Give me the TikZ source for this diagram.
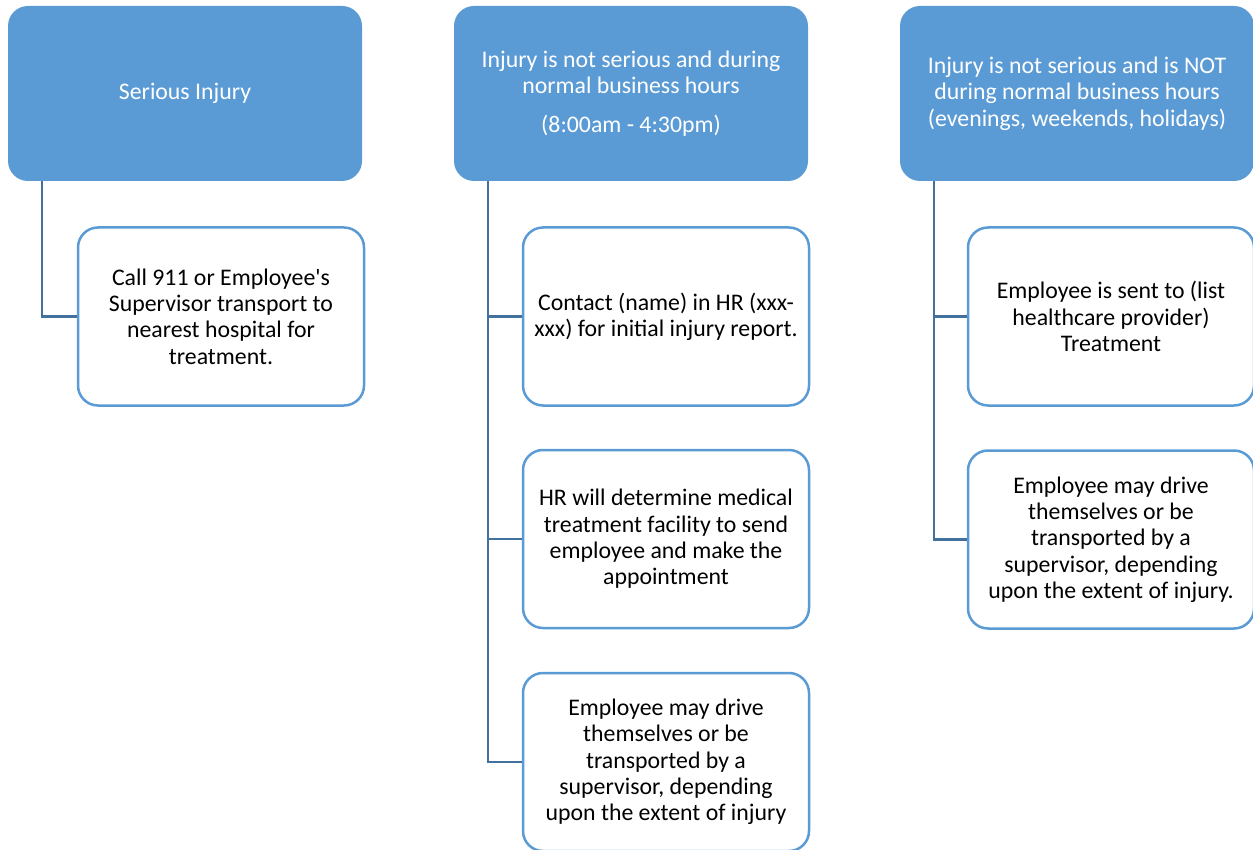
\documentclass[tikz,border=0pt]{standalone}
\usepackage{fontspec}
\setmainfont{Carlito}[Ligatures=TeXOff]
\usetikzlibrary{calc}
\definecolor{hdrblue}{HTML}{5B9BD5}
\definecolor{linkblue}{HTML}{41719C}
\tikzset{
	hdr/.style={fill=hdrblue, rounded corners=20pt, minimum width=354pt, minimum height=175pt, text=white, align=center, inner sep=0pt},
	sub/.style={draw=hdrblue, line width=2.5pt, fill=white, rounded corners=20pt, minimum width=286pt, minimum height=178pt, align=center, inner sep=0pt},
	link/.style={draw=linkblue, line width=2.5pt},
}

\begin{document}
\begin{tikzpicture}[x=1pt, y=-1pt, font=\fontsize{23.8}{26.3}\selectfont]
		%%%%% START %%%%%
		\useasboundingbox (0,0) rectangle (1253,850);
		
		% headers
		\node[hdr] (h1) at (185, 93.5) {Serious Injury};
		\node[hdr] (h2) at (631, 93.5) {Injury is not serious and during\\ normal business hours\\[13pt] (8:00am - 4:30pm)};
		\node[hdr] (h3) at (1077, 93.5) {Injury is not serious and is NOT\\ during normal business hours\\ (evenings, weekends, holidays)};
		
		\coordinate (t1) at ($(h1.south west)+(34,0)$);
		\coordinate (t2) at ($(h2.south west)+(34,0)$);
		\coordinate (t3) at ($(h3.south west)+(34,0)$);
		
		% first column
		\node[sub] (c11) at (221, 316.5) {Call 911 or Employee's\\ Supervisor transport to\\ nearest hospital for\\ treatment.};
		
		% second column
		\node[sub] (c21) at (666, 316.5) {Contact (name) in HR (xxx-\\ xxx) for initial injury report.};
		\node[sub] (c22) at (666, 539) {HR will determine medical\\ treatment facility to send\\ employee and make the\\ appointment};
		\node[sub] (c23) at (666, 762) {Employee may drive\\ themselves or be\\ transported by a\\ supervisor, depending\\ upon the extent of injury};
		
		% third column
		\node[sub] (c31) at (1111, 316.5) {Employee is sent to (list\\ healthcare provider)\\ Treatment};
		\node[sub] (c32) at (1111, 539.5) {Employee may drive\\ themselves or be\\ transported by a\\ supervisor, depending\\ upon the extent of injury.};
		
		% connectors
		\draw[link] (t1) |- (c11.west);
		\draw[link] (t2) |- (c23.west);
		\draw[link] (t2 |- c21.west) -- (c21.west);
		\draw[link] (t2 |- c22.west) -- (c22.west);
		\draw[link] (t3) |- (c32.west);
		\draw[link] (t3 |- c31.west) -- (c31.west);
		%%%%% END %%%%%
\end{tikzpicture}
\end{document}
